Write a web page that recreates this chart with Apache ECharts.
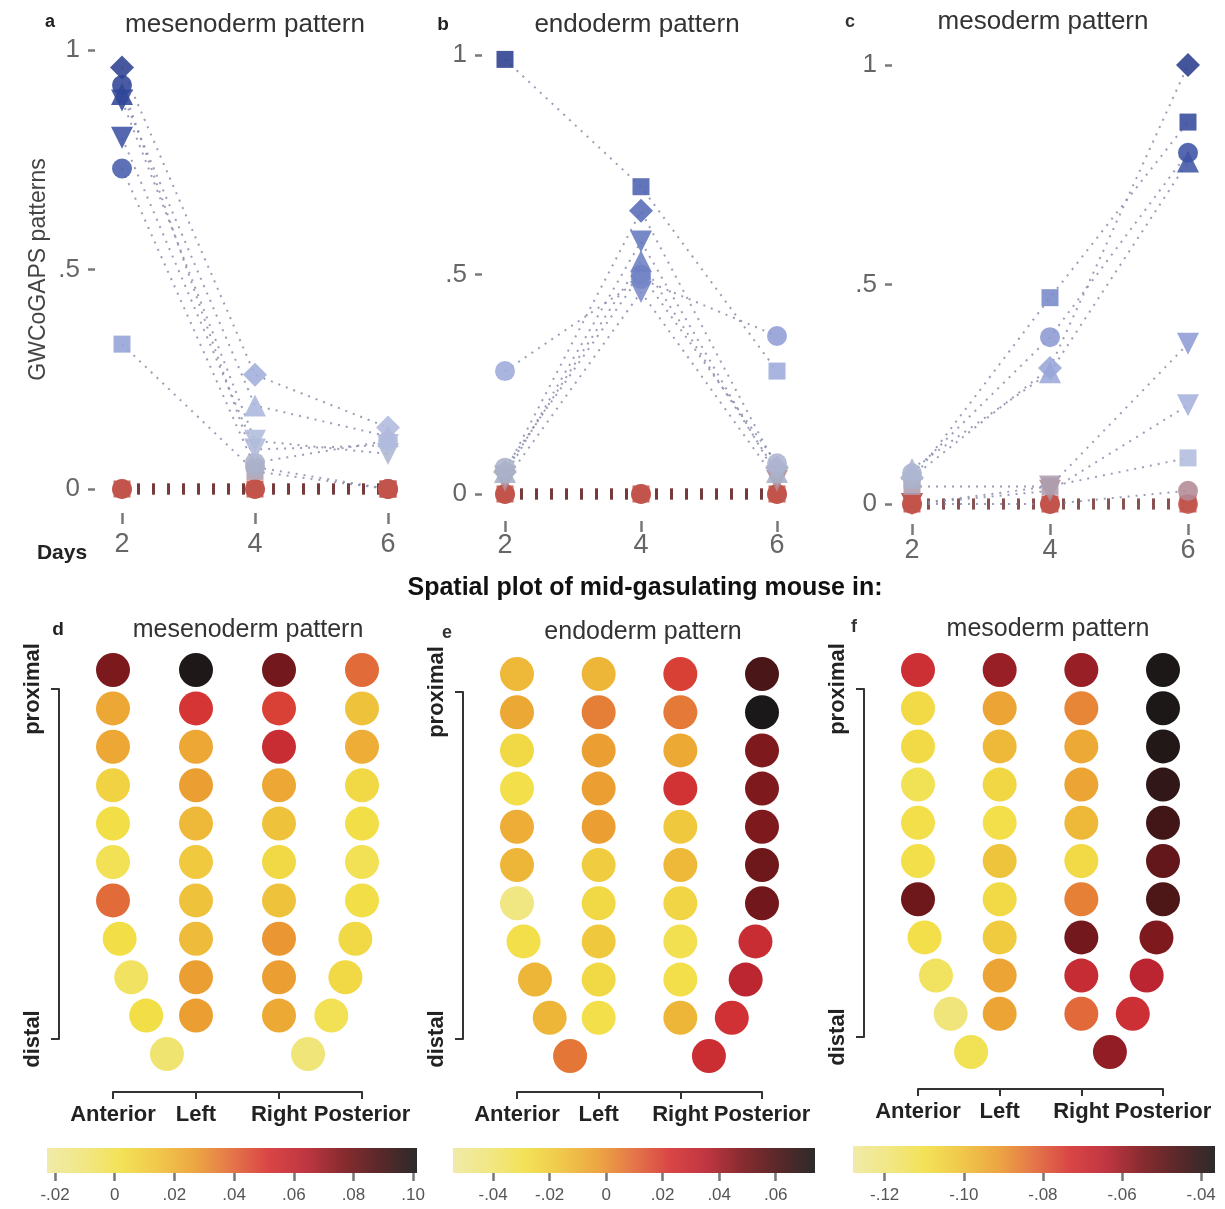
<!DOCTYPE html>
<html>
<head>
<meta charset="utf-8">
<script src="https://cdn.jsdelivr.net/npm/echarts@6/dist/echarts.min.js"></script>
<style>
  html, body { margin: 0; padding: 0; background: #ffffff; }
  #chart { width: 1225px; height: 1209px; }
</style>
</head>
<body>
<div id="chart"></div>
<script>
// ---------- time course of pattern weights ----------
const days = [2, 4, 6];

// one row per trajectory: weight at day 2, day 4, day 6
const mesendoMarkers = ['circle', 'rect', 'circle', 'diamond', 'circle', 'triangleDown', 'triangleDown', 'triangle', 'circle', 'rect'];
const mesendoWeights = [
  [0, 0, 0], [0, 0, 0], [0, 0, 0],
  [0.96, 0.26, 0.14],
  [0.92, 0.06, 0.11],
  [0.885, 0.11, 0.08],
  [0.80, 0.09, 0.10],
  [0.90, 0.19, 0.12],
  [0.73, 0.05, 0],
  [0.33, 0.04, 0]
];

const endoMarkers = ['circle', 'rect', 'circle', 'rect', 'circle', 'diamond', 'triangleDown', 'triangle', 'triangleDown', 'circle'];
const endoWeights = [
  [0, 0, 0], [0, 0, 0], [0, 0, 0],
  [0.99, 0.70, 0.28],
  [0.28, 0.49, 0.36],
  [0.05, 0.645, 0.06],
  [0.04, 0.575, 0.04],
  [0.05, 0.53, 0.05],
  [0.03, 0.46, 0.03],
  [0.06, 0.50, 0.07]
];

const mesoMarkers = ['circle', 'rect', 'circle', 'diamond', 'rect', 'circle', 'triangle', 'triangleDown', 'triangleDown', 'rect'];
const mesoWeights = [
  [0, 0, 0], [0, 0, 0], [0, 0, 0.03],
  [0.06, 0.31, 1.0],
  [0.055, 0.47, 0.87],
  [0.07, 0.38, 0.80],
  [0.08, 0.30, 0.78],
  [0, 0.04, 0.365],
  [0, 0.03, 0.225],
  [0.04, 0.04, 0.105]
];

const patternTitles = ['mesenoderm pattern', 'endoderm pattern', 'mesoderm pattern'];
const panelLetters = ['a', 'b', 'c', 'd', 'e', 'f'];

// ---------- spatial maps of the mid-gastrulating embryo ----------
const regionNames = ['Anterior', 'Left', 'Right', 'Posterior'];
const axisEnds = ['proximal', 'distal'];

// cell layout: position across the regions (0 = anterior .. 3 = posterior) and row (0 = proximal)
const cellPos = [
  0, 0, 0, 0, 0, 0, 0, 0.08, 0.22, 0.40, 0.65,
  1, 1, 1, 1, 1, 1, 1, 1, 1, 1,
  2, 2, 2, 2, 2, 2, 2, 2, 2, 2,
  3, 3, 3, 3, 3, 3, 3, 2.92, 2.80, 2.63, 2.35
];
const cellRow = [
  0, 1, 2, 3, 4, 5, 6, 7, 8, 9, 10,
  0, 1, 2, 3, 4, 5, 6, 7, 8, 9,
  0, 1, 2, 3, 4, 5, 6, 7, 8, 9,
  0, 1, 2, 3, 4, 5, 6, 7, 8, 9, 10
];

const mesendoSpatial = [
  0.077, 0.024, 0.024, 0.008, 0.002, -0.001, 0.039, 0.002, -0.004, 0.002, -0.008,
  0.100, 0.052, 0.024, 0.027, 0.018, 0.012, 0.015, 0.017, 0.027, 0.027,
  0.079, 0.049, 0.058, 0.024, 0.015, 0.005, 0.015, 0.029, 0.027, 0.023,
  0.039, 0.015, 0.022, 0.005, 0.002, -0.001, 0.002, 0.005, 0.005, -0.001, -0.010
];
const endoSpatial = [
  -0.012, -0.006, -0.026, -0.029, -0.008, -0.011, -0.044, -0.029, -0.011, -0.011, 0.007,
  -0.011, 0.005, -0.003, -0.003, -0.003, -0.020, -0.026, -0.018, -0.026, -0.029,
  0.020, 0.006, -0.007, 0.025, -0.018, -0.012, -0.024, -0.031, -0.029, -0.011,
  0.061, 0.074, 0.048, 0.048, 0.048, 0.052, 0.051, 0.029, 0.035, 0.026, 0.028
];
const mesoSpatial = [
  -0.070, -0.108, -0.108, -0.112, -0.110, -0.110, -0.052, -0.110, -0.114, -0.119, -0.112,
  -0.059, -0.093, -0.098, -0.107, -0.110, -0.101, -0.108, -0.103, -0.093, -0.093,
  -0.059, -0.087, -0.094, -0.093, -0.098, -0.108, -0.086, -0.053, -0.068, -0.082,
  -0.037, -0.037, -0.038, -0.041, -0.044, -0.050, -0.046, -0.055, -0.064, -0.070, -0.058
];

// colour-key ranges and their tick values
const mesendoScale = [-0.0227, 0.1013];
const endoScale = [-0.0542, 0.0739];
const mesoScale = [-0.128, -0.0365];
const mesendoKeyTicks = [-0.02, 0, 0.02, 0.04, 0.06, 0.08, 0.10];
const endoKeyTicks = [-0.04, -0.02, 0, 0.02, 0.04, 0.06];
const mesoKeyTicks = [-0.12, -0.10, -0.08, -0.06, -0.04];

// ---------- palettes ----------
const heatColors = ['#efe9a0', '#f0e57a', '#f2df48', '#efc33c', '#eb9f32', '#e26a3a',
                    '#d63535', '#ba2531', '#7d191d', '#4b1617', '#1a1818'];
const weightColors = ['#c1544c', '#a9afc6', '#b2bcdc', '#afbadf', '#a9b5de', '#a2afdc', '#9aa8d9',
                      '#909fd5', '#8796d0', '#7d8dcb', '#7384c6', '#697bc1', '#5f72bc', '#566ab6',
                      '#4d62b0', '#455aaa', '#3e53a4', '#384d9e', '#324798', '#2e4293', '#2a3e8e'];

const FONT = '"Liberation Sans", Arial, Helvetica, sans-serif';

// strip the leading zero the way the axis labels are printed (.5, -.02, .10)
const shortNum = (v, digits) => {
  const s = digits === undefined ? String(v) : Math.abs(v) < 1e-9 ? '0' : v.toFixed(digits);
  return s.replace(/^(-?)0\./, '$1.');
};

const markerSymbol = m => (m === 'triangleDown'
  ? { symbol: 'triangle', symbolRotate: 180 }
  : { symbol: m, symbolRotate: 0 });
const markerSize = { diamond: 24, circle: 20, rect: 17, triangle: 22, triangleDown: 22 };

const grids = [];
const xAxes = [];
const yAxes = [];
const series = [];
const visualMaps = [];

function addGrid(g) {
  grids.push(Object.assign({ containLabel: false, outerBoundsMode: 'none' }, g));
  return grids.length - 1;
}

// ---------- top row: trajectories ----------
const topPanels = [
  { markers: mesendoMarkers, weights: mesendoWeights, grid: { left: 122, top: 50, width: 266, height: 439 },
    yOffset: 27, xOffset: 24, xMargin: 18, name: 'GWCoGAPS patterns' },
  { markers: endoMarkers, weights: endoWeights, grid: { left: 505, top: 55, width: 272, height: 439 },
    yOffset: 23, xOffset: 27, xMargin: 11 },
  { markers: mesoMarkers, weights: mesoWeights, grid: { left: 912, top: 65, width: 276, height: 439 },
    yOffset: 20, xOffset: 20, xMargin: 13 }
];

const weightScatterIdx = [];
topPanels.forEach(p => {
  const gi = addGrid(p.grid);
  xAxes.push({
    type: 'value', gridIndex: gi, min: 2, max: 6, interval: 2, offset: p.xOffset,
    axisLine: { show: false, onZero: false },
    axisTick: { show: true, length: 11, lineStyle: { color: '#7a7a7a', width: 2.5 } },
    axisLabel: { fontFamily: FONT, fontSize: 27, color: '#666', margin: p.xMargin },
    splitLine: { show: false }
  });
  yAxes.push({
    type: 'value', gridIndex: gi, min: 0, max: 1, interval: 0.5, offset: p.yOffset,
    axisLine: { show: false, onZero: false },
    axisTick: { show: true, length: 7, lineStyle: { color: '#7a7a7a', width: 2.5 } },
    axisLabel: { fontFamily: FONT, fontSize: 26, color: '#666', margin: 15, formatter: v => shortNum(v) },
    splitLine: { show: false },
    name: p.name || '', nameLocation: 'middle', nameRotate: 90, nameGap: 45,
    nameTextStyle: { fontFamily: FONT, fontSize: 23, color: '#444' }
  });

  p.weights.forEach(w => {
    const flat = w.every(v => v === 0);
    series.push({
      type: 'line', xAxisIndex: gi, yAxisIndex: gi, clip: false, silent: true, z: 2,
      symbol: 'none', data: days.map((d, j) => [d, w[j]]),
      lineStyle: flat
        ? { color: 'rgba(105,38,38,0.55)', width: 11, type: [3, 12] }
        : { color: 'rgba(130,134,165,0.8)', width: 2, type: [2, 6] }
    });
  });

  const points = [];
  p.weights.forEach((w, k) => {
    days.forEach((d, j) => {
      points.push(Object.assign({ value: [d, w[j]], symbolSize: markerSize[p.markers[k]] },
        markerSymbol(p.markers[k])));
    });
  });
  points.sort((a, b) => a.value[1] - b.value[1]);
  series.push({
    type: 'scatter', xAxisIndex: gi, yAxisIndex: gi, clip: false, z: 3,
    data: points, itemStyle: { opacity: 0.88 }
  });
  weightScatterIdx.push(series.length - 1);
});

visualMaps.push({
  type: 'continuous', show: false, dimension: 1, min: 0, max: 1,
  seriesIndex: weightScatterIdx, inRange: { color: weightColors }
});

// ---------- bottom row: spatial maps ----------
const spatialPanels = [
  { values: mesendoSpatial, scale: mesendoScale, ticks: mesendoKeyTicks,
    grid: { left: 113, top: 670, width: 249, height: 384 }, xOffset: 38,
    bracket: { left: 59, top: 689, width: 6, height: 350 },
    key: { left: 47, top: 1148, width: 370, height: 25 } },
  { values: endoSpatial, scale: endoScale, ticks: endoKeyTicks,
    grid: { left: 517, top: 674, width: 245, height: 382 }, xOffset: 36,
    bracket: { left: 463, top: 692, width: 6, height: 347 },
    key: { left: 453, top: 1148, width: 362, height: 25 } },
  { values: mesoSpatial, scale: mesoScale, ticks: mesoKeyTicks,
    grid: { left: 918, top: 670, width: 245, height: 382 }, xOffset: 37,
    bracket: { left: 864, top: 689, width: 6, height: 348 },
    key: { left: 853, top: 1146, width: 362, height: 27 } }
];

const keyGradient = () => new echarts.graphic.LinearGradient(0, 0, 1, 0,
  heatColors.map((c, i) => ({ offset: i / (heatColors.length - 1), color: c })));

spatialPanels.forEach(p => {
  // cells
  const gi = addGrid(p.grid);
  xAxes.push({
    type: 'value', gridIndex: gi, min: 0, max: 3, interval: 1, offset: p.xOffset,
    axisLine: { show: true, onZero: false, lineStyle: { color: '#333', width: 2 } },
    axisTick: { show: true, length: 7, lineStyle: { color: '#333', width: 2 } },
    axisLabel: { fontFamily: FONT, fontSize: 22, fontWeight: 'bold', color: '#222', margin: 12,
                 formatter: v => regionNames[v] },
    splitLine: { show: false }
  });
  yAxes.push({ type: 'value', gridIndex: gi, min: 0, max: 10, inverse: true, show: false });
  series.push({
    type: 'scatter', xAxisIndex: gi, yAxisIndex: gi, clip: false, z: 3,
    symbol: 'circle', symbolSize: 34, itemStyle: { opacity: 1 },
    data: p.values.map((v, i) => [cellPos[i], cellRow[i], v])
  });
  const cellIdx = series.length - 1;
  visualMaps.push({
    type: 'continuous', show: false, dimension: 2, min: p.scale[0], max: p.scale[1],
    seriesIndex: cellIdx, inRange: { color: heatColors }
  });

  // proximal-distal bracket
  const bi = addGrid(p.bracket);
  xAxes.push({ type: 'value', gridIndex: bi, show: false });
  yAxes.push({
    type: 'category', gridIndex: bi, data: axisEnds, boundaryGap: false, inverse: true,
    axisLine: { show: true, onZero: false, lineStyle: { color: '#333', width: 2 } },
    axisTick: { show: true, length: 8, lineStyle: { color: '#333', width: 2 } },
    axisLabel: { fontFamily: FONT, fontSize: 22, fontWeight: 'bold', color: '#222', rotate: 90, margin: 15 },
    splitLine: { show: false }
  });

  // colour key
  const ki = addGrid(p.key);
  xAxes.push({
    type: 'value', gridIndex: ki, min: p.scale[0], max: p.scale[1],
    axisLine: { show: false, onZero: false },
    axisTick: { show: true, length: 8, customValues: p.ticks, lineStyle: { color: '#777', width: 2.5 } },
    axisLabel: { fontFamily: FONT, fontSize: 17, color: '#555', margin: 14, customValues: p.ticks,
                 formatter: v => shortNum(v, 2) },
    splitLine: { show: false }
  });
  yAxes.push({ type: 'value', gridIndex: ki, min: 0, max: 1, show: false });
  series.push({
    type: 'custom', xAxisIndex: ki, yAxisIndex: ki, silent: true,
    data: [[p.scale[0], p.scale[1]]],
    renderItem: (params, api) => {
      const a = api.coord([api.value(0), 0]);
      const b = api.coord([api.value(1), 1]);
      return {
        type: 'rect',
        shape: { x: a[0], y: b[1], width: b[0] - a[0], height: a[1] - b[1] },
        style: { fill: keyGradient(), opacity: 0.92 }
      };
    }
  });
});

// ---------- free text ----------
const txt = (text, x, y, size, opts) => Object.assign({
  type: 'text', x, y, silent: true,
  style: Object.assign({ text, fontFamily: FONT, fontSize: size, fill: '#333',
                         align: 'center', verticalAlign: 'middle' }, opts || {})
});
const graphics = [
  txt(panelLetters[0], 50, 22, 18, { fontWeight: 'bold', fill: '#222' }),
  txt(panelLetters[1], 443, 25, 19, { fontWeight: 'bold', fill: '#222' }),
  txt(panelLetters[2], 850, 22, 18, { fontWeight: 'bold', fill: '#333' }),
  txt(patternTitles[0], 245, 25, 26),
  txt(patternTitles[1], 637, 25, 26),
  txt(patternTitles[2], 1043, 22, 26),
  txt('Days', 62, 553, 21, { fontWeight: 'bold', fill: '#222' }),
  txt('Spatial plot of mid-gasulating mouse in:', 645, 588, 25, { fontWeight: 'bold', fill: '#111' }),
  txt(panelLetters[3], 58, 630, 19, { fontWeight: 'bold', fill: '#222' }),
  txt(panelLetters[4], 447, 633, 18, { fontWeight: 'bold', fill: '#333' }),
  txt(panelLetters[5], 854, 627, 18, { fontWeight: 'bold', fill: '#333' }),
  txt(patternTitles[0], 248, 630, 25),
  txt(patternTitles[1], 643, 632, 25),
  txt(patternTitles[2], 1048, 629, 25)
];

const chart = echarts.init(document.getElementById('chart'), null, { renderer: 'canvas' });
chart.setOption({
  backgroundColor: '#ffffff',
  animation: false,
  grid: grids,
  xAxis: xAxes,
  yAxis: yAxes,
  visualMap: visualMaps,
  series: series,
  graphic: graphics
});
</script>
</body>
</html>
